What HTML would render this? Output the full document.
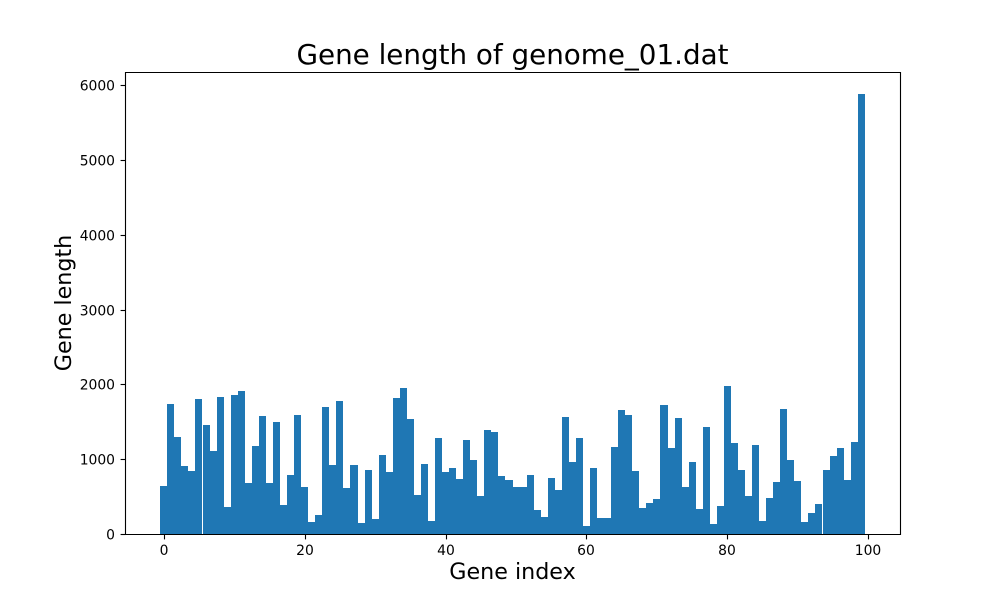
<!DOCTYPE html>
<html lang="en">
<head>
<meta charset="utf-8">
<title>Gene length of genome_01.dat</title>
<style>
html,body{margin:0;padding:0;background:#fff;}
svg{display:block;}
text{font-family:"DejaVu Sans",sans-serif;fill:#000;}
</style>
</head>
<body>
<svg id="chart" xmlns="http://www.w3.org/2000/svg" width="1000" height="600" viewBox="0 0 1000 600">
  <rect x="0" y="0" width="1000" height="600" fill="#fff"/>
  <g id="bars"></g>
  <g id="ticks"></g>
  <g stroke="#000" stroke-width="1.11" fill="none">
    <line x1="125.5" y1="72" x2="125.5" y2="535"/>
    <line x1="900.5" y1="72" x2="900.5" y2="535"/>
    <line x1="125" y1="72.5" x2="901" y2="72.5"/>
    <line x1="125" y1="534.5" x2="901" y2="534.5"/>
  </g>
  <text x="512.5" y="64" text-anchor="middle" font-size="27.78">Gene length of genome_01.dat</text>
  <text x="512.5" y="579" text-anchor="middle" font-size="22.22">Gene index</text>
  <text transform="translate(71,303) rotate(-90)" text-anchor="middle" font-size="22.22">Gene length</text>
</svg>
<script>
const geneLengths = [
  644,1739,1298,911,844,1806,1459,1111,1833,363,
  1860,1913,684,1178,1579,684,1499,390,791,1592,
  631,163,256,1699,924,1779,617,924,150,858,
  203,1058,831,1819,1953,1539,524,938,176,1285,
  831,884,737,1258,991,510,1392,1365,777,724,
  631,631,791,323,230,751,590,1566,964,1285,
  110,884,216,216,1165,1659,1592,844,350,417,
  470,1726,1152,1552,631,964,337,1432,136,377,
  1980,1218,858,510,1192,176,484,697,1673,991,
  711,163,283,403,858,1045,1152,724,1232,5881
];
const xTickValues = [0, 20, 40, 60, 80, 100];
const yTickValues = [0, 1000, 2000, 3000, 4000, 5000, 6000];

const SVG_NS = 'http://www.w3.org/2000/svg';
const plotLeft = 125, plotRight = 900, plotTop = 72, plotBottom = 534;
const xMin = -0.5 - 0.05 * geneLengths.length;
const xMax = geneLengths.length - 0.5 + 0.05 * geneLengths.length;
const yMax = Math.max(...geneLengths) * 1.05;
function xScale(v) { return plotLeft + (v - xMin) / (xMax - xMin) * (plotRight - plotLeft); }
function yScale(v) { return plotBottom - v / yMax * (plotBottom - plotTop); }
function snap(v) { return Math.round(v + 1e-6); }

const barsGroup = document.getElementById('bars');
geneLengths.forEach(function (value, i) {
  const left = snap(xScale(i - 0.5));
  let right = snap(xScale(i + 0.5));
  if (i === 5 || i === 93) { right -= 1; }
  const top = snap(yScale(value));
  const bar = document.createElementNS(SVG_NS, 'rect');
  
  
  bar.setAttribute('x', left);
  bar.setAttribute('y', top);
  bar.setAttribute('width', right - left);
  bar.setAttribute('height', plotBottom - top);
  bar.setAttribute('fill', '#1f77b4');
  bar.setAttribute('shape-rendering', 'crispEdges');
  barsGroup.appendChild(bar);
});

const ticksGroup = document.getElementById('ticks');
xTickValues.forEach(function (value) {
  const px = snap(xScale(value)) + 0.5;
  const tick = document.createElementNS(SVG_NS, 'line');
  
  
  tick.setAttribute('x1', px);
  tick.setAttribute('x2', px);
  tick.setAttribute('y1', plotBottom + 0.5);
  tick.setAttribute('y2', plotBottom + 5.4);
  tick.setAttribute('stroke', '#000');
  tick.setAttribute('stroke-width', '1.11');
  ticksGroup.appendChild(tick);
  const label = document.createElementNS(SVG_NS, 'text');
  
  
  label.setAttribute('x', px - 0.5);
  label.setAttribute('y', 555);
  label.setAttribute('text-anchor', 'middle');
  label.setAttribute('font-size', '13.89');
  label.textContent = String(value);
  ticksGroup.appendChild(label);
});
yTickValues.forEach(function (value) {
  const py = snap(yScale(value)) + 0.5;
  const tick = document.createElementNS(SVG_NS, 'line');
  
  
  tick.setAttribute('x1', plotLeft - 4.4);
  tick.setAttribute('x2', plotLeft + 0.5);
  tick.setAttribute('y1', py);
  tick.setAttribute('y2', py);
  tick.setAttribute('stroke', '#000');
  tick.setAttribute('stroke-width', '1.11');
  ticksGroup.appendChild(tick);
  const label = document.createElementNS(SVG_NS, 'text');
  
  
  label.setAttribute('x', 115);
  label.setAttribute('y', py + 4.8);
  label.setAttribute('text-anchor', 'end');
  label.setAttribute('font-size', '13.89');
  label.textContent = String(value);
  ticksGroup.appendChild(label);
});
</script>
</body>
</html>
